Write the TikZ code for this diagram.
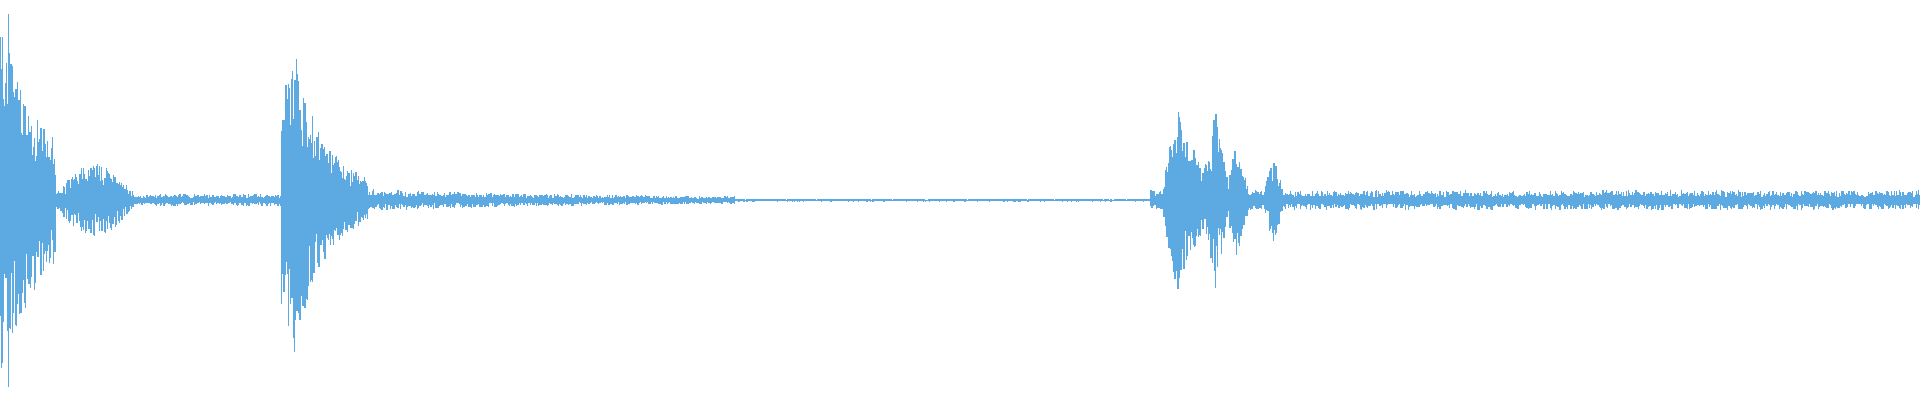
\documentclass[tikz,border=0pt]{standalone}
\begin{document}
\begin{tikzpicture}[x=0.0122449cm,y=0.0122699cm]
\definecolor{wave}{RGB}{93,170,226}
\tikzset{wl/.style={wave,line width=0.35pt}}
\pgfmathsetseed{7}
\useasboundingbox (0,0) rectangle (1568,326);
\newcommand{\wseg}[4]{% from, next, to, envelope in \x
  \foreach \x in {#1,#2,...,#3}{
    \pgfmathsetmacro\a{#4}
    \pgfmathsetmacro\u{\a*(0.35+0.65*rnd)}
    \pgfmathsetmacro\d{\a*(0.35+0.65*rnd)}
    \draw[wl] (\x,163-\d) -- (\x,163+\u);
  }}
\newcommand{\bump}[3]{max(0,1-abs(\x-#1)/#2)*#3}
\wseg{0}{0.5}{45}{10+135*exp(-\x/38)}
\draw[wl] (7,11) -- (7,315);
\draw[wl] (2,30) -- (2,296);
\wseg{45}{45.6}{110}{5+25*sin((\x-45)/65*180)}
\wseg{110}{111}{230}{5}
\wseg{230}{230.5}{300}{12+115*exp(-abs(\x-240)/22)}
\wseg{300}{301}{600}{2+7*exp(-(\x-300)/180)}
\wseg{600}{601}{940}{1.3}
\wseg{940}{940.5}{1050}{8+\bump{961}{12}{70}+\bump{975}{14}{35}+\bump{993}{10}{68}+\bump{1010}{10}{38}+\bump{1040}{8}{28}}
\wseg{1050}{1051}{1568}{8}
\end{tikzpicture}
\end{document}
